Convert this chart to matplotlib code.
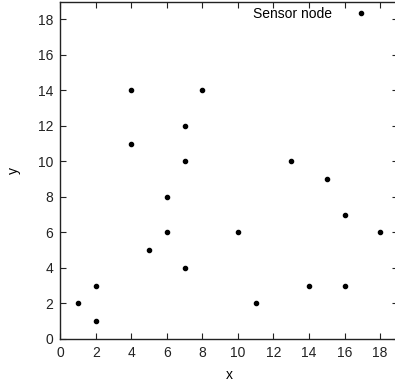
import matplotlib
matplotlib.use("Agg")
import matplotlib.pyplot as plt

# sensor node positions
xs = [1, 2, 2, 4, 4, 5, 6, 6, 7, 7, 7, 8, 10, 11, 13, 14, 15, 16, 16, 18]
ys = [2, 3, 1, 14, 11, 5, 8, 6, 12, 10, 4, 14, 6, 2, 10, 3, 9, 7, 3, 6]
xticks = list(range(0, 19, 2))
yticks = list(range(0, 19, 2))

plt.rcParams['font.family'] = ['Liberation Sans', 'DejaVu Sans']
plt.rcParams['font.size'] = 10

fig = plt.figure(figsize=(3.95, 3.85), dpi=100)
# right border falls just outside the picture, as in the original crop
ax = fig.add_axes([0.153, 0.12, 0.854, 0.876])

ax.plot(xs, ys, 'o', color='black', markersize=3, linestyle='none', label='Sensor node')

ax.set_xlim(0, 19)
ax.set_ylim(0, 19)
ax.set_xticks(xticks)
ax.set_yticks(yticks)
ax.tick_params(direction='in', length=4.5, width=0.8, top=True, right=True,
               colors='#222222', labelcolor='#222222')
ax.tick_params(axis='x', pad=5)
ax.tick_params(axis='y', pad=5)
for s in ax.spines.values():
    s.set_linewidth(1.0)
    s.set_color('#222222')

ax.set_xlabel('x', labelpad=6)
ax.set_ylabel('y', labelpad=12)

ax.legend(loc='center right', frameon=False, markerfirst=False,
          handlelength=1.2, handletextpad=1.5, borderaxespad=0.0,
          bbox_to_anchor=(0.9327, 0.963))

fig.savefig('out.png', dpi=100)
